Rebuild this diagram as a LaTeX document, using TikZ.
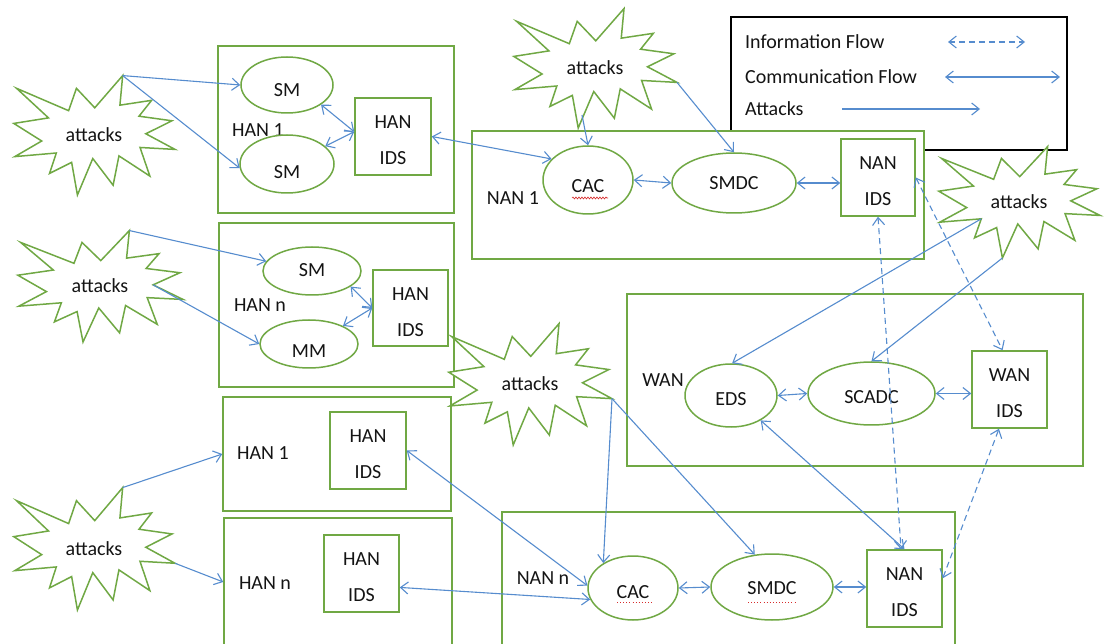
\documentclass[tikz,border=0pt]{standalone}
\usepackage{fontspec}
\setmainfont{Carlito}
\usetikzlibrary{arrows.meta,decorations.pathmorphing,shapes.geometric}

\definecolor{zonegreen}{RGB}{112,168,68}
\definecolor{flowblue}{RGB}{86,140,206}
\definecolor{spellred}{RGB}{215,45,45}

\tikzset{
  every node/.style={font=\fontsize{20}{36}\selectfont, text=black!92},
  zone/.style={rectangle, draw=zonegreen, line width=1.5pt, fill=white, inner sep=0pt},
  unit/.style={ellipse, draw=zonegreen, line width=1.5pt, fill=white, inner sep=0pt},
  idsbox/.style={rectangle, draw=zonegreen, line width=1.5pt, fill=white, inner sep=0pt},
  idstxt/.style={align=center, yshift=-4pt},
  tag/.style={inner sep=0pt},
  burstline/.style={draw=zonegreen, line width=1.5pt, fill=white, line join=miter},
  comm/.style={draw=flowblue, line width=1.1pt,
    {Straight Barb[length=7.5pt,width=12pt]}-{Straight Barb[length=7.5pt,width=12pt]}},
  info/.style={comm, dash pattern=on 6pt off 4pt},
  attack/.style={draw=flowblue, line width=1.1pt, -{Straight Barb[length=7.5pt,width=12pt]}},
  spellwave/.style={draw=spellred, line width=0.6pt, decorate,
    decoration={snake, amplitude=1pt, segment length=3pt}},
  spelldots/.style={draw=spellred, line width=0.9pt, dash pattern=on 0.9pt off 2.2pt},
}

% explosion outline: name, left, top, width, height
\newcommand\attackburst[5]{%
  \begin{scope}[shift={(#2,#3)},xscale=#4/21.6,yscale=#5/21.6]
    \path[burstline] (10.901,5.905) -- (8.458,2.399) -- (7.417,6.425) -- (0.476,2.399)
      -- (4.732,7.722) -- (0.106,8.718) -- (3.828,11.880) -- (0.243,14.689)
      -- (5.772,14.041) -- (4.868,17.719) -- (7.819,15.730) -- (8.590,21.600)
      -- (10.637,15.038) -- (13.349,19.840) -- (14.125,14.561) -- (18.248,18.195)
      -- (16.938,13.044) -- (21.600,13.393) -- (17.710,10.579) -- (21.198,8.242)
      -- (16.806,7.417) -- (18.482,4.560) -- (14.257,5.429) -- (14.623,0.106) -- cycle;
    \coordinate (#1-top) at (14.623,0.106);
    \coordinate (#1-right) at (21.6,13.393);
    \coordinate (#1-bottom) at (8.59,21.6);
    \coordinate (#1-notch) at (17.71,10.579);
    \coordinate (#1-inner) at (5.772,14.041);
    \node[tag] (#1) at (10.8,10.8) {attacks};
  \end{scope}}

\begin{document}
\begin{tikzpicture}[x=1pt,y=-1pt]
\path[use as bounding box] (0,0) rectangle (1104,644);
\clip (0,0) rectangle (1104,644);

% ---------- legend ----------
\node[draw=black, line width=1.3pt, fill=white, minimum width=336pt, minimum height=133pt,
      inner sep=0pt] (legend) at (899,83.5) {};
\node[tag, anchor=west] (lg-info) at (745,42) {Information Flow};
\node[tag, anchor=west] (lg-comm) at (745,77) {Communication Flow};
\node[tag, anchor=west] (lg-att) at (745,109) {Attacks};
\coordinate (lg-i1) at (948,42);  \coordinate (lg-i2) at (1025,42);
\coordinate (lg-c1) at (945,77);  \coordinate (lg-c2) at (1060,77);
\coordinate (lg-a1) at (842,109); \coordinate (lg-a2) at (980,109);
\draw[info] (lg-i1) -- (lg-i2);
\draw[comm] (lg-c1) -- (lg-c2);
\draw[attack] (lg-a1) -- (lg-a2);

% ---------- network zones ----------
\node[zone, minimum width=236pt, minimum height=167pt] (han1) at (336,129.5) {};
\node[zone, minimum width=235pt, minimum height=164pt] (hann) at (336.5,305) {};
\node[zone, minimum width=228pt, minimum height=114pt] (lhan1) at (337,454) {};
\node[zone, minimum width=228pt, minimum height=128pt] (lhann) at (338,582) {};
\node[zone, minimum width=452pt, minimum height=128pt] (nan1) at (698,195) {};
\node[zone, minimum width=456pt, minimum height=172pt] (wan) at (855,380) {};
\node[zone, minimum width=453pt, minimum height=148pt] (nann) at (728.5,586) {};

\node[tag] (han1-lbl) at (258,130) {HAN 1};
\node[tag] (hann-lbl) at (260,305) {HAN n};
\node[tag] (lhan1-lbl) at (263,453) {HAN 1};
\node[tag] (lhann-lbl) at (265,583) {HAN n};
\node[tag] (nan1-lbl) at (513,198) {NAN 1};
\node[tag] (wan-lbl) at (663,380) {WAN};
\node[tag] (nann-lbl) at (543,578) {NAN n};

% ---------- IDS boxes ----------
\node[idsbox, minimum width=76pt, minimum height=77pt, label={[idstxt]center:{HAN\\IDS}}] (hid1) at (393,136.5) {};
\node[idsbox, minimum width=75pt, minimum height=76pt, label={[idstxt]center:{HAN\\IDS}}] (hidn) at (410.5,308) {};
\node[idsbox, minimum width=76pt, minimum height=77pt, label={[idstxt]center:{HAN\\IDS}}] (lhid1) at (368,450.5) {};
\node[idsbox, minimum width=75pt, minimum height=77pt, label={[idstxt]center:{HAN\\IDS}}] (lhidn) at (361.5,573.5) {};
\node[idsbox, minimum width=74pt, minimum height=77pt, label={[idstxt]center:{NAN\\IDS}}] (nids1) at (878,177.5) {};
\node[idsbox, minimum width=75pt, minimum height=77pt, label={[idstxt]center:{WAN\\IDS}}] (wids) at (1009.5,389.5) {};
\node[idsbox, minimum width=75pt, minimum height=77pt, label={[idstxt]center:{NAN\\IDS}}] (nidsn) at (904.5,588.5) {};

% ---------- devices and data centres ----------
\node[unit, minimum width=92pt, minimum height=56pt, label={[yshift=-5pt]center:SM}] (sm1) at (287,85) {};
\node[unit, minimum width=94pt, minimum height=58pt, label={[yshift=-8pt]center:SM}] (sm2) at (287,164) {};
\node[unit, minimum width=98pt, minimum height=48pt, label={[yshift=1pt]center:SM}] (smn) at (312,271) {};
\node[unit, minimum width=98pt, minimum height=48pt, label={[yshift=-7pt]center:MM}] (mm) at (309,344) {};
\node[unit, minimum width=90pt, minimum height=68pt, label={[yshift=-6pt]center:CAC}] (cac1) at (588,180) {};
\node[unit, minimum width=124pt, minimum height=60pt, label={center:SMDC}] (smdc1) at (734,183) {};
\node[unit, minimum width=92pt, minimum height=63pt, label={[yshift=-4pt]center:EDS}] (eds) at (731,395.5) {};
\node[unit, minimum width=127pt, minimum height=63pt, label={[yshift=-4pt]center:SCADC}] (scadc) at (871.5,393.5) {};
\node[unit, minimum width=90pt, minimum height=64pt, label={[yshift=-4pt]center:CAC}] (cacn) at (633,588) {};
\node[unit, minimum width=122pt, minimum height=66pt, label={[yshift=-1pt]center:SMDC}] (smdcn) at (772,587) {};

% proofing marks under the abbreviations
\draw[spellwave] ([xshift=-16pt,yshift=-18pt]cac1.center) -- ++(36,0);
\draw[spelldots] ([xshift=-16pt,yshift=-14pt]cacn.center) -- ++(36,0);
\draw[spelldots] ([xshift=-24pt,yshift=-15pt]smdcn.center) -- ++(47,0);

% ---------- attack sources ----------
\attackburst{s1}{13}{75}{162}{120}
\attackburst{s2}{17}{230}{166}{112}
\attackburst{s3}{513}{8}{164}{120}
\attackburst{sm}{448}{323}{164}{122}
\attackburst{sr}{938}{146}{162}{112}
\attackburst{s4}{13}{487}{162}{123}
\coordinate (s3-foot) at (582,115);

% ---------- communication flow ----------
\draw[comm] (sm1.-30) -- (hid1.173);
\draw[comm] (sm2.25) -- (hid1.173);
\draw[comm] (hid1.east) -- (cac1.150);
\draw[comm] (cac1.east) -- (smdc1.west);
\draw[comm] (smdc1.east) -- (smdc1.east -| nids1.west);
\draw[comm] (smn.-22) -- (hidn.west);
\draw[comm] (mm.28) -- (hidn.west);
\draw[comm] (eds.east) -- (scadc.west);
\draw[comm] (scadc.east) -- (scadc.east -| wids.west);
\draw[comm] (cacn.east) -- (smdcn.west);
\draw[comm] (smdcn.east) -- (smdcn.east -| nidsn.west);
\draw[comm] (lhid1.east) -- (cacn.177);
\draw[comm] (lhidn.-20) -- (cacn.195);
\draw[comm] (eds.-40) -- (nidsn.north);

% ---------- information flow ----------
\draw[info] (nids1.south) -- (nidsn.95);
\draw[info] (nids1.east) -- (wids.100);
\draw[info] (nidsn.15) -- (wids.-105);

% ---------- attacks ----------
\draw[attack] (s1-top) -- (sm1.west);
\draw[attack] (s1-top) -- (sm2.185);
\draw[attack] (s2-top) -- (smn.168);
\draw[attack] (s2-notch) -- (mm.west);
\draw[attack] (s3-foot) -- (cac1.north);
\draw[attack] (s3-right) -- (smdc1.north);
\draw[attack] (sr-inner) -- (eds.88);
\draw[attack] (sr-bottom) -- (scadc.north);
\draw[attack] (sm-right) -- (cacn.140);
\draw[attack] (sm-right) -- (smdcn.118);
\draw[attack] (s4-top) -- (lhan1.west);
\draw[attack] (s4-right) -- (lhann.west);
\end{tikzpicture}
\end{document}
